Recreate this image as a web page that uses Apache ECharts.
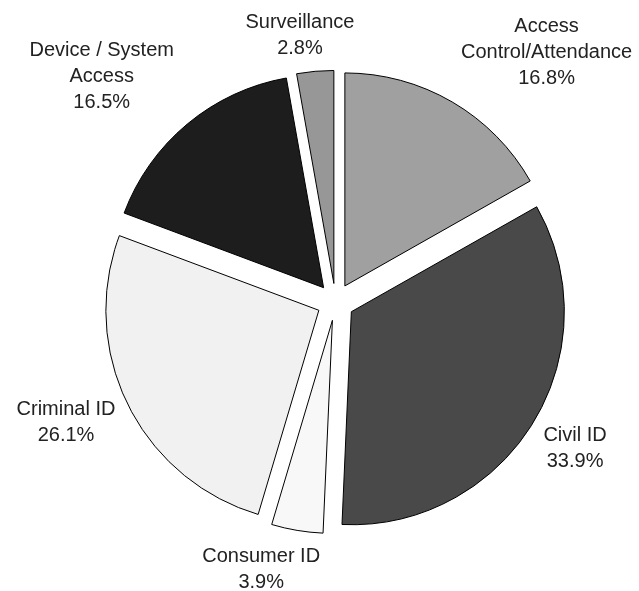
<!DOCTYPE html>
<html>
<head>
<meta charset="utf-8">
<script src="https://cdn.jsdelivr.net/npm/echarts@6/dist/echarts.min.js"></script>
<style>
  html, body { margin: 0; padding: 0; background: #ffffff; }
  #chart { width: 639px; height: 591px; }
</style>
</head>
<body>
<div id="chart"></div>
<script>
// Market share by application segment (percent)
const categories = ['Access\nControl/Attendance', 'Civil ID', 'Consumer ID', 'Criminal ID', 'Device / System\nAccess', 'Surveillance'];
const shares = [16.8, 33.9, 3.9, 26.1, 16.5, 2.8];
const sliceColors = ['#a0a0a0', '#494949', '#f8f8f8', '#f1f1f1', '#1d1d1d', '#979797'];

// Pie geometry
const CX = 335.5, CY = 302, RADIUS = 213, EXPLODE = 18.6;
// Label anchors around the pie centre: [degrees clockwise from 12 o'clock, distance in px]
const labelPolar = [[40.2, 327], [121.5, 281], [195.5, 278], [246, 295], [314, 325], [352.4, 269]];

const chart = echarts.init(document.getElementById('chart'), null, { renderer: 'canvas' });

const common = {
  type: 'pie',
  center: [CX, CY],
  radius: RADIUS,
  startAngle: 90,
  clockwise: true,
  animation: false
};

chart.setOption({
  animation: false,
  backgroundColor: '#ffffff',
  series: [
    // exploded slices
    Object.assign({}, common, {
      selectedMode: 'multiple',
      selectedOffset: EXPLODE,
      itemStyle: { borderColor: '#000000', borderWidth: 1 },
      emphasis: { disabled: true },
      label: { show: false },
      labelLine: { show: false },
      data: categories.map((name, i) => ({
        name,
        value: shares[i],
        selected: true,
        itemStyle: { color: sliceColors[i] }
      }))
    }),
    // category / share labels
    Object.assign({}, common, {
      silent: true,
      avoidLabelOverlap: false,
      itemStyle: { color: 'rgba(0,0,0,0)', borderWidth: 0 },
      emphasis: { disabled: true },
      label: {
        show: true,
        position: 'outside',
        formatter: p => p.name + '\n' + p.value.toFixed(1) + '%',
        fontFamily: 'Liberation Sans, Arial, sans-serif',
        fontSize: 20,
        lineHeight: 26,
        color: '#222222',
        align: 'center'
      },
      labelLine: { show: false },
      labelLayout: params => {
        const [deg, dist] = labelPolar[params.dataIndex];
        const a = deg * Math.PI / 180;
        return {
          x: CX + dist * Math.sin(a),
          y: CY - dist * Math.cos(a),
          align: 'center',
          verticalAlign: 'middle'
        };
      },
      data: categories.map((name, i) => ({ name, value: shares[i] }))
    })
  ]
});
</script>
</body>
</html>
